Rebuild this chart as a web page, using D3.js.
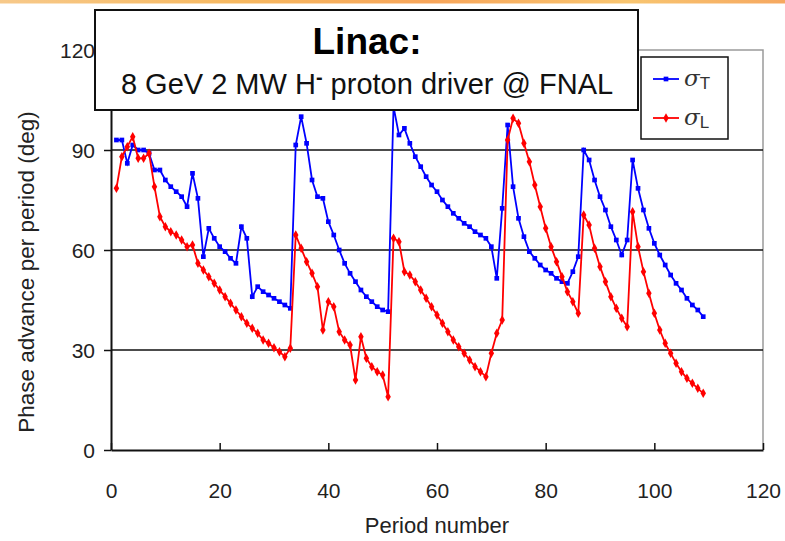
<!DOCTYPE html>
<html>
<head>
<meta charset="utf-8">
<script src="https://cdn.jsdelivr.net/npm/d3@7"></script>
<style>
  body { margin: 0; background: #fff; }
  svg { display: block; font-family: "Liberation Sans", Arial, sans-serif; }
</style>
</head>
<body>
<svg width="785" height="541"></svg>
<script>
// period numbers 1..109
const periods = d3.range(1, 110);

const sigmaT = [
  93, 93, 86, 91.5, 90, 90, 89, 84, 84, 81,
  79, 77.5, 76, 73, 83, 75.5, 58, 66.5, 63.5, 61,
  59.5, 57.5, 56, 67, 63.5, 46, 49, 47.5, 46.5, 45.5,
  44.5, 43.5, 42.5, 91.5, 100, 92, 81, 76, 75.5, 68.5,
  64.5, 60, 56, 53, 50.5, 48, 46, 44.5, 43, 42,
  41.5, 103, 94.5, 96.5, 92, 88, 85, 82, 79.5, 77.5,
  75, 73, 71, 69.5, 68, 67, 65.5, 64.5, 63.5, 61,
  51.5, 72.5, 97.5, 79, 69.5, 64, 59.5, 57.5, 55.5, 54,
  53, 51.5, 50.5, 50, 53.5, 58, 90, 87, 81, 76,
  72, 67, 63, 58.5, 63, 87, 78.5, 72, 66.5, 62,
  58.5, 55.5, 52.5, 50, 48, 45.5, 43.5, 42, 40
];

const sigmaL = [
  78.5, 88, 91, 94, 87.5, 87.5, 89, 79, 70, 67,
  65.5, 64.5, 63, 61, 61.5, 56, 54, 52, 50, 48,
  46, 44, 42, 40, 38, 36.5, 35, 33, 32, 30.7,
  29.5, 28, 30.5, 64.5, 60.5, 56.5, 53, 49, 36, 44.5,
  43, 35.5, 33, 31.5, 21, 34, 27.5, 25, 23.5, 22.5,
  16, 63.5, 62.5, 53.5, 52.5, 50.5, 48, 45.5, 43, 40.5,
  38, 35.5, 33, 31, 29, 27, 25, 23.5, 22, 29,
  35, 39, 93, 99.5, 98, 92, 86.5, 79.5, 73, 66.5,
  61, 56.5, 52, 47.5, 44.5, 41, 70.5, 67.5, 60.5, 55,
  50.5, 46, 42.5, 39.5, 37, 71.5, 61, 53.5, 47, 41,
  36, 32, 29, 26, 23.5, 21.5, 20, 18.5, 17
];

const xTicks = [0, 20, 40, 60, 80, 100, 120];
const yTicks = [0, 30, 60, 90, 120];
const seriesNames = ["T", "L"];
const seriesColors = ["#0000ff", "#ff0000"];

const margin = {left: 111, right: 22, top: 50, bottom: 91};
const width = 785 - margin.left - margin.right;
const height = 541 - margin.top - margin.bottom;

const svg = d3.select("svg");

// orange band along the top edge
const grad = svg.append("defs").append("linearGradient")
  .attr("id", "band");
grad.selectAll("stop")
  .data([["0%", "#f7c98a"], ["30%", "#f6b860"], ["55%", "#f7a55a"], ["80%", "#f8c570"], ["100%", "#f6a860"]])
  .join("stop")
  .attr("offset", d => d[0])
  .attr("stop-color", d => d[1]);
svg.append("rect")
  .attr("x", 0).attr("y", 0)
  .attr("width", 785).attr("height", 3.5)
  .attr("fill", "url(#band)");

const x = d3.scaleLinear().domain([0, 120]).range([0, width]);
const y = d3.scaleLinear().domain([0, 120]).range([height, 0]);

const g = svg.append("g")
  .attr("transform", `translate(${margin.left},${margin.top})`);

// plot area frame (grey top/right)
g.append("path")
  .attr("d", `M0,0H${width}V${height}`)
  .attr("fill", "none")
  .attr("stroke", "#9a9a9a")
  .attr("stroke-width", 1.5);

// gridlines
g.selectAll(".grid")
  .data(yTicks.filter(v => v > 0 && v < 120))
  .join("line")
  .attr("class", "grid")
  .attr("x1", 0).attr("x2", width)
  .attr("y1", d => y(d)).attr("y2", d => y(d))
  .attr("stroke", "#111")
  .attr("stroke-width", 1.5);

const xAxis = g.append("g")
  .attr("transform", `translate(0,${height})`)
  .call(d3.axisBottom(x).tickValues(xTicks).tickSizeInner(-7).tickSizeOuter(0).tickPadding(33));
const yAxis = g.append("g")
  .call(d3.axisLeft(y).tickValues(yTicks).tickSizeInner(7).tickSizeOuter(0).tickPadding(9));

[xAxis, yAxis].forEach(a => {
  a.select(".domain").attr("stroke", "#111").attr("stroke-width", 2);
  a.selectAll(".tick line").attr("stroke", "#111").attr("stroke-width", 1.5);
  a.selectAll(".tick text")
    .attr("font-family", "Liberation Sans Narrow, Liberation Sans, Arial, sans-serif")
    .attr("font-size", 21)
    .attr("fill", "#222");
});
yAxis.selectAll(".tick text").attr("dy", "0.36em");

// axis titles
svg.append("text")
  .attr("x", margin.left + x(60))
  .attr("y", 533)
  .attr("text-anchor", "middle")
  .attr("font-family", "Liberation Sans Narrow, Liberation Sans, Arial, sans-serif")
  .attr("font-size", 22)
  .attr("fill", "#222")
  .text("Period number");
svg.append("text")
  .attr("transform", "translate(34,272) rotate(-90)")
  .attr("text-anchor", "middle")
  .attr("font-size", 22.5)
  .attr("fill", "#222")
  .text("Phase advance per period (deg)");

// series
const line = d3.line()
  .x((d, i) => x(periods[i]))
  .y(d => y(d));

const markT = d3.symbol().type(d3.symbolSquare).size(22);
const markL = d3.symbol().type(d3.symbolDiamond).size(26);

[[sigmaT, 0, markT], [sigmaL, 1, markL]].forEach(([vals, k, sym]) => {
  g.append("path")
    .datum(vals)
    .attr("d", line)
    .attr("fill", "none")
    .attr("stroke", seriesColors[k])
    .attr("stroke-width", 1.8);
  g.selectAll(".m" + k)
    .data(vals)
    .join("path")
    .attr("class", "m" + k)
    .attr("transform", (d, i) => `translate(${x(periods[i])},${y(d)})`)
    .attr("d", sym)
    .attr("fill", seriesColors[k]);
});

// legend
const leg = svg.append("g").attr("transform", "translate(641,57)");
leg.append("rect")
  .attr("width", 87).attr("height", 82)
  .attr("fill", "#fff")
  .attr("stroke", "#111")
  .attr("stroke-width", 1.5);
[markT, markL].forEach((sym, k) => {
  const ly = 22 + k * 39;
  leg.append("line")
    .attr("x1", 12).attr("x2", 38)
    .attr("y1", ly).attr("y2", ly)
    .attr("stroke", seriesColors[k])
    .attr("stroke-width", 1.8);
  leg.append("path")
    .attr("transform", `translate(25,${ly})`)
    .attr("d", sym)
    .attr("fill", seriesColors[k]);
  const t = leg.append("text")
    .attr("x", 43).attr("y", ly + 7)
    .attr("fill", "#333")
    .attr("font-size", 23);
  t.append("tspan").attr("font-family", "DejaVu Serif, serif").attr("font-style", "italic").text("σ");
  t.append("tspan").attr("font-size", 17).attr("dy", 3).text(seriesNames[k]);
});

// title box
const tb = svg.append("g").attr("transform", "translate(95,10)");
tb.append("rect")
  .attr("width", 543).attr("height", 100)
  .attr("fill", "#fff")
  .attr("stroke", "#111")
  .attr("stroke-width", 2);
tb.append("text")
  .attr("x", 272).attr("y", 44)
  .attr("text-anchor", "middle")
  .attr("font-size", 37)
  .attr("font-weight", "bold")
  .attr("fill", "#000")
  .text("Linac:");
const sub = tb.append("text")
  .attr("x", 272).attr("y", 84)
  .attr("text-anchor", "middle")
  .attr("font-size", 29)
  .attr("fill", "#111");
sub.append("tspan").text("8 GeV 2 MW H");
sub.append("tspan").attr("dy", -10).attr("font-weight", "bold").attr("font-size", 20).text("-");
sub.append("tspan").attr("dy", 10).text(" proton driver @ FNAL");
</script>
</body>
</html>
